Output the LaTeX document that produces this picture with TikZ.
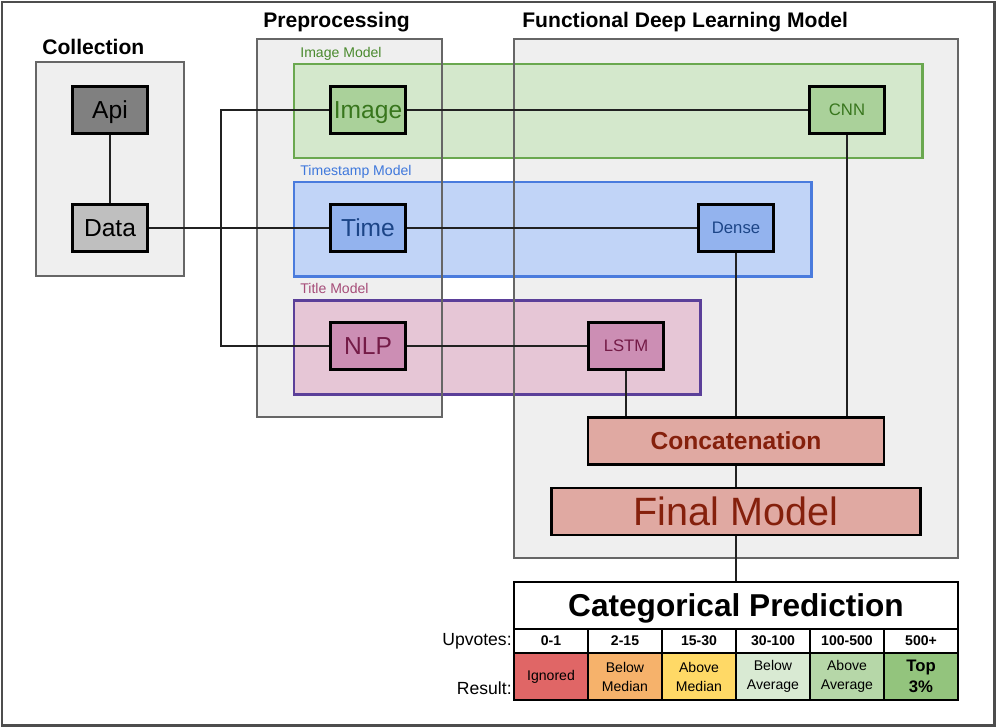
\documentclass[tikz,border=0pt]{standalone}
\usepackage{fontspec}
\setmainfont{Liberation Sans}

\definecolor{frame}{HTML}{4D4D4D}
\definecolor{secfill}{HTML}{EFEFEF}
\definecolor{secdraw}{HTML}{666666}
\definecolor{apifill}{HTML}{808080}
\definecolor{datafill}{HTML}{BFBFBF}
\definecolor{imgfill}{HTML}{D4E8CC}
\definecolor{imgdraw}{HTML}{6AA84F}
\definecolor{imgnode}{HTML}{AAD19A}
\definecolor{imgtext}{HTML}{38761D}
\definecolor{imglabel}{HTML}{4A8A2E}
\definecolor{timefill}{HTML}{C1D4F7}
\definecolor{timedraw}{HTML}{4A7BDD}
\definecolor{timenode}{HTML}{93B3EE}
\definecolor{timetext}{HTML}{1C4587}
\definecolor{timelabel}{HTML}{3F78DC}
\definecolor{titlefill}{HTML}{E6C6D6}
\definecolor{titledraw}{HTML}{5B3F99}
\definecolor{nlpnode}{HTML}{CC8EB4}
\definecolor{nlptext}{HTML}{741B47}
\definecolor{titlelabel}{HTML}{A64D79}
\definecolor{mergefill}{HTML}{E0A9A2}
\definecolor{mergetext}{HTML}{85200C}
\definecolor{resred}{HTML}{E06666}
\definecolor{resorange}{HTML}{F6B26B}
\definecolor{resyellow}{HTML}{FFD966}
\definecolor{reslight}{HTML}{D9EAD3}
\definecolor{resmid}{HTML}{B6D7A8}
\definecolor{resgreen}{HTML}{93C47D}

\begin{document}
\begin{tikzpicture}[
  x=0.02cm, y=-0.02cm,
  section/.style={draw=secdraw, line width=1.4pt, fill=secfill},
  sectitle/.style={anchor=base west, inner sep=0pt, font=\bfseries\fontsize{12}{14}\selectfont},
  modelbox/.style={line width=1.7pt},
  modellabel/.style={anchor=base west, inner sep=0pt, font=\fontsize{8}{10}\selectfont},
  block/.style={draw=black, line width=1.5pt, minimum width=1.5cm, minimum height=0.94cm, inner sep=0pt, text height=10pt, text depth=0pt, font=\fontsize{14}{16}\selectfont},
  layer/.style={block, text height=6.8pt, font=\fontsize{9.5}{11}\selectfont},
  merge/.style={block, fill=mergefill, text=mergetext},
  link/.style={draw=black!87, line width=0.85pt},
  cell/.style={draw=black, line width=1.1pt, minimum width=1.48cm, inner sep=0pt, align=center},
  resfont/.style={font=\fontsize{8}{10.8}\selectfont},
  topfont/.style={font=\bfseries\fontsize{9.5}{12}\selectfont},
]

\useasboundingbox (0,0) rectangle (996,727);
\draw [frame, line width=1.7pt] (2,2) rectangle (994,725);

\node [sectitle] (coltitle) at (42,54) {Collection};
\node [sectitle] (pretitle) at (263,27) {Preprocessing};
\node [sectitle] (funtitle) at (522,27) {Functional Deep Learning Model};

\draw [section] (36,62) rectangle (184,276);
\draw [section] (257,39) rectangle (442,417);
\draw [section] (514,39) rectangle (958,558);

\draw [modelbox, draw=imgdraw, fill=imgfill] (294,64) rectangle (922,158);
\draw [modelbox, draw=timedraw, fill=timefill] (294,182) rectangle (811,276);
\draw [modelbox, draw=titledraw, fill=titlefill] (294,300) rectangle (700,394);

\draw [secdraw, line width=1.4pt] (257,39) rectangle (442,417);
\draw [secdraw, line width=1.4pt] (514,39) rectangle (958,558);

\node [modellabel, text=imglabel] (imglbl) at (300,57) {Image Model};
\node [modellabel, text=timelabel] (timelbl) at (300,175) {Timestamp Model};
\node [modellabel, text=titlelabel] (titlelbl) at (300,293) {Title Model};

\node [block, fill=apifill] (api) at (110,110) {Api};
\node [block, fill=datafill] (data) at (110,228) {Data};

\node [block, fill=imgnode, text=imgtext] (image) at (368,110) {Image};
\node [block, fill=timenode, text=timetext] (time) at (368,228) {Time};
\node [block, fill=nlpnode, text=nlptext] (nlp) at (368,346) {NLP};

\node [layer, fill=imgnode, text=imgtext] (cnn) at (847,110) {CNN};
\node [layer, fill=timenode, text=timetext] (dense) at (736,228) {Dense};
\node [layer, fill=nlpnode, text=nlptext] (lstm) at (626,346) {LSTM};

\node [merge, minimum width=5.92cm, font=\bfseries\fontsize{14}{16}\selectfont] (concat) at (736,441) {Concatenation};
\node [merge, minimum width=7.38cm, text height=16.1pt, font=\fontsize{22.5}{26}\selectfont] (final) at (736,511.5) {Final Model};

\coordinate (branchtop) at (221,110);
\coordinate (branchbot) at (221,346);

\draw [link] (api) -- (data);
\draw [link] (data) -- (time);
\draw [link] (image.west) -- (branchtop) -- (branchbot) -- (nlp.west);
\draw [link] (image) -- (cnn);
\draw [link] (time) -- (dense);
\draw [link] (nlp) -- (lstm);
\draw [link] (cnn.south) -- (cnn.south |- concat.north);
\draw [link] (dense.south) -- (dense.south |- concat.north);
\draw [link] (lstm.south) -- (lstm.south |- concat.north);
\draw [link] (concat) -- (final);

\node [cell, fill=white, minimum width=8.88cm, minimum height=0.94cm, text height=12.9pt, text depth=0pt, font=\bfseries\fontsize{18}{20}\selectfont] (catpred) at (736,605.5) {Categorical Prediction};
\draw [link] (final) -- (catpred);

\foreach \i/\up/\res/\col/\rf in {0/0-1/Ignored/resred/resfont, 1/2-15/{Below\\Median}/resorange/resfont, 2/15-30/{Above\\Median}/resyellow/resfont, 3/30-100/{Below\\Average}/reslight/resfont, 4/100-500/{Above\\Average}/resmid/resfont, 5/500+/{Top\\3\%}/resgreen/topfont}
{
  \node [cell, fill=white, minimum height=0.48cm, font=\bfseries\fontsize{8}{10}\selectfont] (up\i) at ({551+74*\i},641) {\up};
  \node [cell, fill=\col, minimum height=0.94cm, \rf] (res\i) at ({551+74*\i},676.5) {\res};
}

\node [anchor=east, inner sep=0pt, font=\fontsize{10}{12}\selectfont] (uplabel) at (512,641) {Upvotes:};
\node [anchor=east, inner sep=0pt, font=\fontsize{10}{12}\selectfont] (reslabel) at (512,688) {Result:};

\end{tikzpicture}
\end{document}
